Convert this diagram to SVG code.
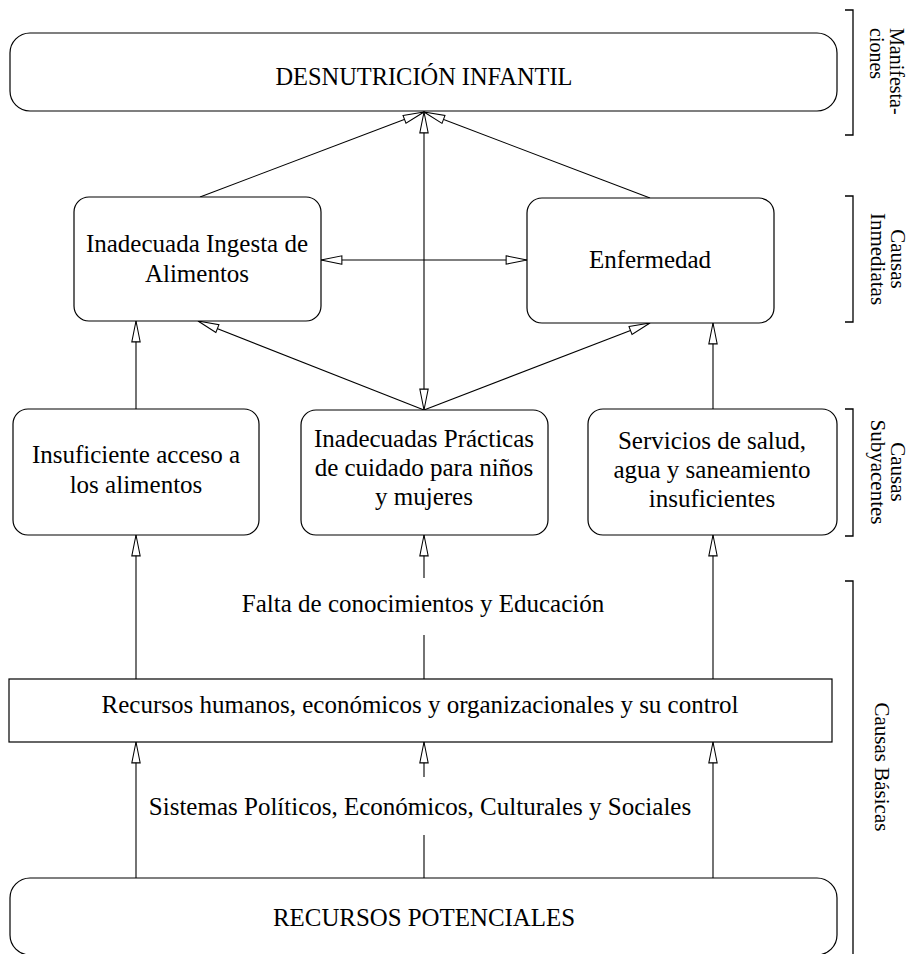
<svg xmlns="http://www.w3.org/2000/svg" width="911" height="954" viewBox="0 0 911 954">
<defs>
<style>
.box{fill:#fff;stroke:#000;stroke-width:1.2}
.ln{fill:none;stroke:#000;stroke-width:1.1}
.br{fill:none;stroke:#000;stroke-width:1.3}
text{font-family:"Liberation Serif","Times New Roman",serif;fill:#000}
.t{font-size:25px;text-anchor:middle}
.cap{font-size:26px;text-anchor:middle}
.s{font-size:20px}
.sm{font-size:21px;text-anchor:middle}
</style>
<marker id="ah" markerUnits="userSpaceOnUse" markerWidth="24" markerHeight="12" refX="20" refY="4" orient="auto-start-reverse" viewBox="-1 -1 23 10">
<path d="M0,0 L20,4 L0,8 Z" fill="#fff" stroke="#000" stroke-width="1"/>
</marker>
</defs>
<rect width="911" height="954" fill="#fff"/>

<g id="connectors">
<line class="ln" x1="200" y1="197" x2="424" y2="112" marker-end="url(#ah)"/>
<line class="ln" x1="650" y1="198" x2="424" y2="112" marker-end="url(#ah)"/>
<line class="ln" x1="424" y1="410" x2="424" y2="112" marker-start="url(#ah)" marker-end="url(#ah)"/>
<line class="ln" x1="321" y1="260" x2="527" y2="260" marker-start="url(#ah)" marker-end="url(#ah)"/>
<line class="ln" x1="424" y1="410" x2="198" y2="321" marker-end="url(#ah)"/>
<line class="ln" x1="424" y1="410" x2="650" y2="323" marker-end="url(#ah)"/>
<line class="ln" x1="136" y1="409" x2="136" y2="321" marker-end="url(#ah)"/>
<line class="ln" x1="713" y1="409" x2="713" y2="323" marker-end="url(#ah)"/>
<line class="ln" x1="136" y1="679" x2="136" y2="535" marker-end="url(#ah)"/>
<line class="ln" x1="713" y1="679" x2="713" y2="535" marker-end="url(#ah)"/>
<line class="ln" x1="424" y1="578" x2="424" y2="535" marker-end="url(#ah)"/>
<line class="ln" x1="424" y1="679" x2="424" y2="635"/>
<line class="ln" x1="136" y1="878" x2="136" y2="742" marker-end="url(#ah)"/>
<line class="ln" x1="713" y1="878" x2="713" y2="742" marker-end="url(#ah)"/>
<line class="ln" x1="424" y1="777" x2="424" y2="742" marker-end="url(#ah)"/>
<line class="ln" x1="424" y1="878" x2="424" y2="835"/>
</g>

<g id="desnutricion">
<rect class="box" x="10" y="33" width="827" height="78" rx="20" ry="20"/>
<text class="cap" x="424" y="85" textLength="297" lengthAdjust="spacingAndGlyphs">DESNUTRICIÓN INFANTIL</text>
</g>

<g id="ingesta">
<rect class="box" x="74" y="197" width="247" height="124" rx="15" ry="15"/>
<text class="t" x="197" y="252">Inadecuada Ingesta de</text>
<text class="t" x="197" y="282">Alimentos</text>
</g>

<g id="enfermedad">
<rect class="box" x="527" y="198" width="247" height="125" rx="15" ry="15"/>
<text class="t" x="650" y="268">Enfermedad</text>
</g>

<g id="acceso">
<rect class="box" x="13" y="409" width="246" height="126" rx="15" ry="15"/>
<text class="t" x="136" y="463">Insuficiente acceso a</text>
<text class="t" x="136" y="493">los alimentos</text>
</g>

<g id="practicas">
<rect class="box" x="301" y="410" width="247" height="125" rx="15" ry="15"/>
<text class="t" x="424" y="447">Inadecuadas Prácticas</text>
<text class="t" x="424" y="476">de cuidado para niños</text>
<text class="t" x="424" y="505">y mujeres</text>
</g>

<g id="servicios">
<rect class="box" x="588" y="409" width="249" height="126" rx="15" ry="15"/>
<text class="t" x="712" y="449">Servicios de salud,</text>
<text class="t" x="712" y="478">agua y saneamiento</text>
<text class="t" x="712" y="507">insuficientes</text>
</g>

<g id="falta">
<text class="t" x="423" y="612">Falta de conocimientos y Educación</text>
</g>

<g id="recursos-humanos">
<rect class="box" x="9" y="679" width="823" height="63"/>
<text class="t" x="420" y="713">Recursos humanos, económicos y organizacionales y su control</text>
</g>

<g id="sistemas">
<text class="t" x="420" y="815">Sistemas Políticos, Económicos, Culturales y Sociales</text>
</g>

<g id="recursos-potenciales">
<rect class="box" x="10" y="878" width="827" height="77" rx="20" ry="20"/>
<text class="cap" x="424" y="926" textLength="302" lengthAdjust="spacingAndGlyphs">RECURSOS POTENCIALES</text>
</g>

<g id="levels">
<path class="br" d="M845,10 H853 V135 H845"/>
<text class="s" transform="translate(890,28) rotate(90)">Manifesta-</text>
<text class="s" transform="translate(870,28) rotate(90)">ciones</text>
<path class="br" d="M845,196 H853 V322 H845"/>
<text class="sm" transform="translate(891,259) rotate(90)">Causas</text>
<text class="sm" transform="translate(871,259) rotate(90)">Inmediatas</text>
<path class="br" d="M845,409 H853 V536 H845"/>
<text class="sm" transform="translate(891,472) rotate(90)">Causas</text>
<text class="sm" transform="translate(871,472) rotate(90)">Subyacentes</text>
<path class="br" d="M845,581 H853 V960"/>
<text class="sm" transform="translate(875,767) rotate(90)">Causas Básicas</text>
</g>
</svg>
